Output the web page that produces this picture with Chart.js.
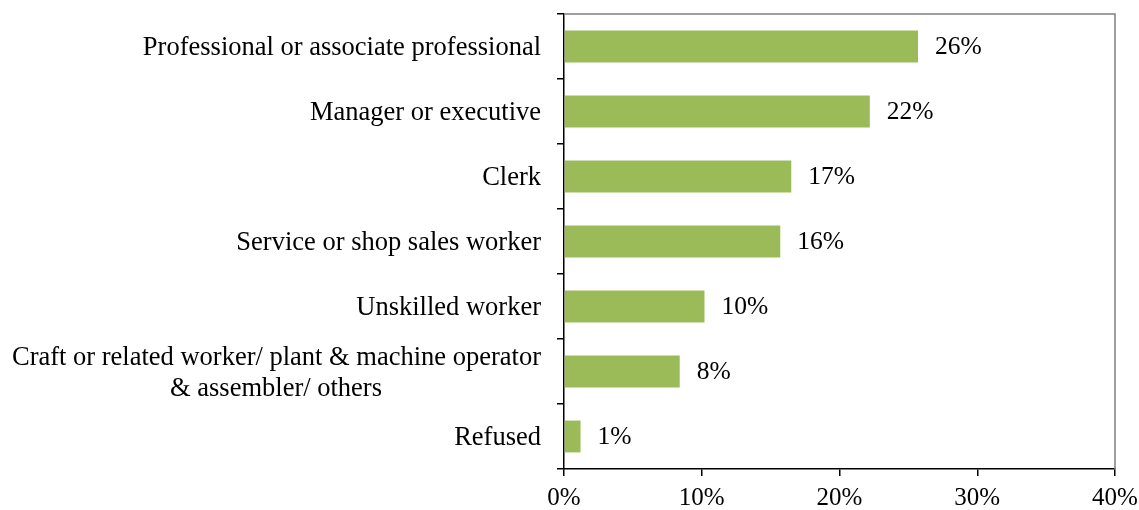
<!DOCTYPE html>
<html>
<head>
<meta charset="utf-8">
<script src="https://cdn.jsdelivr.net/npm/chart.js@4"></script>
<style>
  html, body { margin: 0; padding: 0; background: #fff; }
  #wrap { width: 1139px; height: 510px; }
</style>
</head>
<body>
<div id="wrap"><canvas id="chart"></canvas></div>
<script>
const categories = [
    'Professional or associate professional',
    'Manager or executive',
    'Clerk',
    'Service or shop sales worker',
    'Unskilled worker',
    ['Craft or related worker/ plant & machine operator', '& assembler/ others'],
    'Refused',
];
const values = [25.7, 22.2, 16.5, 15.7, 10.2, 8.4, 1.2];
const valueLabels = ['26%', '22%', '17%', '16%', '10%', '8%', '1%'];
const xTicks = [0, 10, 20, 30, 40];

const barColor = '#9BBB59';
const fontFamily = '"Liberation Serif", "Times New Roman", serif';

// second line of the long label is centred under the first one
const pad = '\u00a0'.repeat(24);

const valueLabelPlugin = {
    id: 'valueLabels',
    afterDatasetsDraw(chart) {
        const ctx = chart.ctx;
        const meta = chart.getDatasetMeta(0);
        ctx.save();
        ctx.font = '25.5px ' + fontFamily;
        ctx.fillStyle = '#000';
        ctx.textAlign = 'left';
        ctx.textBaseline = 'middle';
        meta.data.forEach((bar, i) => {
            ctx.fillText(valueLabels[i], bar.x + 17, bar.y + 1);
        });
        ctx.restore();
    }
};

const frameBorderPlugin = {
    id: 'frameBorder',
    afterDraw(chart) {
        const { ctx, chartArea: a } = chart;
        ctx.save();
        ctx.strokeStyle = '#808080';
        ctx.lineWidth = 1.5;
        ctx.beginPath();
        ctx.moveTo(a.left, a.top);
        ctx.lineTo(a.right, a.top);
        ctx.lineTo(a.right, a.bottom);
        ctx.stroke();
        ctx.restore();
    }
};

const ctx = document.getElementById('chart').getContext('2d');

new Chart(ctx, {
    type: 'bar',
    data: {
        labels: categories,
        datasets: [{
            data: values,
            backgroundColor: barColor,
            borderWidth: 0,
            barPercentage: 0.49,
            categoryPercentage: 1,
        }],
    },
    options: {
        indexAxis: 'y',
        responsive: true,
        maintainAspectRatio: false,
        animation: false,
        layout: {
            padding: { top: 14, right: 24, left: 0, bottom: 0 }
        },
        plugins: {
            legend: { display: false },
            tooltip: { enabled: false },
        },
        scales: {
            x: {
                min: 0,
                max: 40,
                afterBuildTicks(scale) {
                    scale.ticks = xTicks.map(v => ({ value: v }));
                },
                afterFit(scale) {
                    scale.height = 41;
                    scale.paddingLeft = 0;
                    scale.paddingRight = 0;
                },
                border: { display: true, color: '#000', width: 1.5 },
                grid: {
                    drawOnChartArea: false,
                    drawTicks: true,
                    tickLength: 7,
                    color: '#000',
                    lineWidth: 1.5,
                },
                ticks: {
                    color: '#000',
                    padding: 7,
                    maxRotation: 0,
                    autoSkip: false,
                    font: { family: fontFamily, size: 25 },
                    callback: v => v + '%',
                },
            },
            y: {
                afterFit(scale) {
                    scale.width = 564;
                    scale.paddingTop = 0;
                    scale.paddingBottom = 0;
                },
                border: { display: true, color: '#000', width: 1.5 },
                grid: {
                    offset: true,
                    drawOnChartArea: false,
                    drawTicks: true,
                    tickLength: 7,
                    color: '#000',
                    lineWidth: 1.5,
                },
                ticks: {
                    color: '#000',
                    padding: 16,
                    labelOffset: 2,
                    autoSkip: false,
                    font: { family: fontFamily, size: 26.5, lineHeight: 1.15 },
                    callback(value, index) {
                        const label = categories[index];
                        if (Array.isArray(label)) {
                            return [label[0], label[1] + pad];
                        }
                        return label;
                    },
                },
            },
        },
    },
    plugins: [valueLabelPlugin, frameBorderPlugin],
});
</script>
</body>
</html>
